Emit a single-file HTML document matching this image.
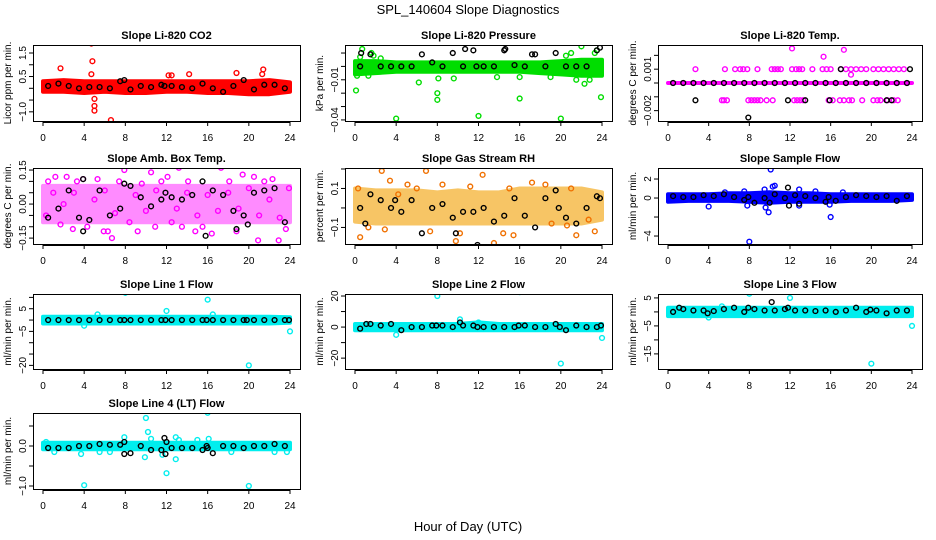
<!DOCTYPE html>
<html><head><meta charset="utf-8"><style>
html,body{margin:0;padding:0;background:#fff;}
svg{display:block;font-family:"Liberation Sans",Arial,sans-serif;}
</style></head><body>
<svg id="chart" width="936" height="540" viewBox="0 0 936 540" xmlns="http://www.w3.org/2000/svg">
<text x="468" y="14" text-anchor="middle" font-size="13">SPL_140604  Slope Diagnostics</text>
<text x="468" y="531" text-anchor="middle" font-size="13">Hour of Day (UTC)</text>
</svg>
<script>
// ---- shared category arrays ----
const xTicks=[0,4,8,12,16,20,24];
const bandHours=[0,2,4,6,8,10,12,14,16,18,20,22,24];
const blackHours=[0.5,1.5,2.5,3.5,4.5,5.5,6.5,7.5,8.5,9.5,10.5,11.5,12.5,13.5,14.5,15.5,16.5,17.5,18.5,19.5,20.5,21.5,22.5,23.5];

// ---- Li-820 CO2 ----
const co2BandLo=[-0.15,-0.15,-0.2,-0.15,-0.2,-0.2,-0.15,-0.15,-0.2,-0.2,-0.25,-0.25,-0.15];
const co2BandHi=[0.3,0.35,0.3,0.3,0.3,0.3,0.3,0.3,0.3,0.3,0.3,0.35,0.25];
const co2Black=[0.1,0.2,0.1,0.0,0.05,0.05,0.0,0.3,-0.05,0.1,0.05,0.15,0.1,0.05,0.0,0.2,0.0,-0.15,0.1,0.35,-0.05,0.15,0.15,0.0];
const co2OutX=[1.7,4.7,4.8,4.7,5,5,5,6.6,12.2,12.5,14.2,18.8,21.4,21.3];
const co2OutY=[0.85,1.9,1.15,0.6,-0.45,-0.75,-0.95,-1.35,0.55,0.55,0.6,0.65,0.8,0.6];
const co2BlkX=[11.8,7.9];
const co2BlkY=[0.1,0.35];

// ---- Li-820 Pressure ----
const presBandLo=[-0.006,-0.005,-0.004,-0.004,-0.004,-0.004,-0.004,-0.004,-0.004,-0.005,-0.006,-0.007,-0.007];
const presBandHi=[0.004,0.004,0.003,0.003,0.003,0.003,0.003,0.003,0.003,0.003,0.004,0.005,0.005];
const presBlack=[0.0,0.009,0.0,0.0,0.0,0.0,0.009,0.003,0.0,0.01,0.0,0.012,0.0,0.0,0.012,0.001,0.0,0.009,0.0,0.01,0.0,0.0,0.0,0.012];
const presOutX=[0.1,0.2,0.7,1.6,1.3,4,6.2,8,8,8.1,9.6,12,13.8,16,16,20,22,22.3,23.9,23.3,19,21.5,0.5,1.8,2.5,20.5,21,22.8,23.5];
const presOutY=[-0.018,-0.007,0.013,0.01,-0.007,-0.039,-0.012,-0.020,-0.025,-0.009,-0.009,-0.037,-0.008,-0.024,-0.008,-0.039,0.015,-0.013,-0.023,0.01,-0.008,-0.01,0.007,0.008,0.006,0.008,0.01,-0.01,0.012];
const presBlkX=[0.6,10.7,11.8,14.6,17.2,23.8];
const presBlkY=[0.01,0.013,0.0,0.013,0.009,0.014];

// ---- Li-820 Temp ----
const tempBandLo=[0,0,0,0,0,0,0,0,0,0,0,0,0];
const tempBandHi=[0,0,0,0,0,0,0,0,0,0,0,0,0];
const tempBlack=[0,0,0,0,0,0,0,0,0,0,0,0,0,0,0,0,0,0,0,0,0,0,0,0];
const tempOutX=[2.7,5.6,6.6,7.1,7.4,7.8,8.8,10.2,10.5,10.8,11.1,12.2,12.6,12.9,13.2,14.2,15.2,15.6,16,17,17.5,18,18.5,19,19.5,20.2,20.7,21.2,21.7,22.2,22.7,23.2,5.3,5.5,5.8,7.9,8.2,8.5,8.8,9.1,9.7,10.3,12.4,12.7,13,13.3,15.8,16.2,16.9,17.3,17.8,18.1,19.1,20.2,20.6,20.9,21.6,22.2,22.6,12.2,15.3,17.3,18];
const tempOutY=[0.001,0.001,0.001,0.001,0.001,0.001,0.001,0.001,0.001,0.001,0.001,0.001,0.001,0.001,0.001,0.001,0.001,0.001,0.001,0.001,0.001,0.001,0.001,0.001,0.001,0.001,0.001,0.001,0.001,0.001,0.001,0.001,-0.00125,-0.00125,-0.00125,-0.00125,-0.00125,-0.00125,-0.00125,-0.00125,-0.00125,-0.00125,-0.00125,-0.00125,-0.00125,-0.00125,-0.00125,-0.00125,-0.00125,-0.00125,-0.00125,-0.00125,-0.00125,-0.00125,-0.00125,-0.00125,-0.00125,-0.00125,-0.00125,0.0025,0.0019,0.0024,0.0006];
const tempBlkX=[2.7,7.9,11.8,13.5,15.9,17,21.5,22,23.8];
const tempBlkY=[-0.00125,-0.0025,-0.00125,-0.00125,-0.00125,0.001,-0.00125,-0.00125,0.001];

// ---- Amb Box Temp ----
const ambBandLo=[-0.08,-0.08,-0.08,-0.08,-0.08,-0.08,-0.08,-0.08,-0.08,-0.08,-0.08,-0.08,-0.08];
const ambBandHi=[0.08,0.08,0.08,0.08,0.08,0.08,0.08,0.08,0.08,0.08,0.08,0.08,0.08];
const ambBlack=[-0.06,-0.02,0.06,-0.06,-0.07,0.06,-0.05,-0.02,0.08,0.03,-0.01,0.02,0.03,0.02,0.04,0.1,0.06,0.04,-0.03,-0.05,0.05,0.06,0.07,-0.08];
const ambOutX=[0.5,0.3,1.2,1.7,2.3,2.9,3.3,3.9,4.3,5.3,5.9,6.3,6.7,7.4,7.9,8.4,9.2,9.6,10.5,10.9,11.5,12.1,12.5,13.2,13.5,14.1,14.8,15.5,16.4,17.3,18.1,18.8,19.4,20.5,20.9,21.5,22.3,22.9,23.6,23.9,1,2,3,5,6,7,9,10,11,13,14,15,16,17,18,19,20,21,22,23];
const ambOutY=[0.1,-0.05,0.12,-0.09,0.12,-0.11,0.1,0.11,-0.1,0.11,-0.12,-0.12,-0.15,0.1,0.15,-0.08,-0.12,0.09,0.14,-0.1,0.1,0.12,-0.08,0.16,-0.1,0.1,-0.12,-0.1,-0.13,0.16,0.1,-0.12,0.13,0.12,-0.16,0.1,0.11,-0.16,-0.11,0.07,0.05,0,0.05,0.02,0.06,-0.04,0.04,-0.03,0.06,-0.02,0.05,-0.05,0.04,-0.03,0.05,-0.02,0.07,-0.05,0.02,-0.06];
const ambBlkX=[3.9,3.9,15.8,18.8,19.9,11.9,7.9];
const ambBlkY=[0.11,-0.12,-0.14,-0.11,-0.09,0.05,0.09];

// ---- Gas Stream RH ----
const rhBandLo=[-0.07,-0.08,-0.08,-0.08,-0.08,-0.08,-0.08,-0.08,-0.08,-0.08,-0.08,-0.08,-0.06];
const rhBandHi=[0.1,0.09,0.09,0.09,0.08,0.09,0.08,0.08,0.1,0.1,0.1,0.1,0.08];
const rhBlack=[0.0,0.07,0.04,0.0,-0.02,0.04,-0.13,0.0,0.02,-0.05,-0.02,-0.02,0.0,-0.07,-0.04,0.05,-0.04,-0.1,0.05,0.09,-0.05,-0.08,0.0,0.06];
const rhOutX=[0.5,1.3,2.6,3.4,2.9,5.1,6.9,7.3,9.8,10.2,12.4,13.5,14.4,15.4,17.2,19.1,20.6,21.5,22.7,23.3,0.3,4.2,6,8.5,11.2,15,18.5,21];
const rhOutY=[-0.15,-0.1,0.19,0.14,-0.11,0.12,0.19,-0.12,-0.17,-0.13,0.17,-0.18,-0.13,-0.14,0.13,-0.08,-0.09,-0.14,-0.06,-0.12,0.1,0.07,0.1,0.12,0.11,0.1,0.12,0.1];
const rhBlkX=[1,3.9,11.9,9.8,19.8,23.8];
const rhBlkY=[-0.08,0.04,-0.19,-0.13,0.0,0.05];

// ---- Sample Flow ----
const sfBandLo=[-0.4,-0.3,-0.3,-0.3,-0.4,-0.5,-0.4,-0.4,-0.4,-0.3,-0.3,-0.3,-0.2];
const sfBandHi=[0.4,0.4,0.4,0.5,0.5,0.6,0.5,0.5,0.4,0.4,0.4,0.4,0.4];
const sfBlack=[0.2,0.1,0.1,0.3,0.2,0.4,0.1,-0.2,-0.5,0.0,0.4,0.0,0.3,0.2,0.0,-0.4,-0.3,0.1,0.3,0.2,0.1,0.2,-0.3,0.2];
const sfOutX=[4,7.5,7.8,8,9.5,9.6,9.9,10.1,10.3,10.5,12.9,14.5,15.9,16,17.2,5.6,12.9];
const sfOutY=[-0.9,0.7,-0.8,-4.6,0.9,-1.0,-1.5,3.0,1.2,1.3,0.9,0.7,-0.7,-2,0.6,0.6,-0.8];
const sfBlkX=[11.8,11.9,12.9,7.9,10,15.8];
const sfBlkY=[1.1,-0.8,-0.6,0.1,-0.5,0.1];

// ---- Line 1 Flow ----
const l1BandLo=[-1.5,-1.5,-1.5,-1.5,-1.5,-1.5,-1.5,-1.5,-1.5,-1.5,-1.5,-1.5,-1.2];
const l1BandHi=[1.5,1.5,1.5,1.5,1.5,1.5,1.5,1.5,1.5,1.5,1.5,1.5,1.2];
const l1Black=[0,0,0,0,0,0,0,0,0,0,0,0,0,0,0,0,0,0,0,0,0,0,0,0];
const l1OutX=[8,12,16,20,24,4,5.3,16.5];
const l1OutY=[12,4,9,-20,-5,-2.5,2.5,2.5];
const l1BlkX=[7.9,11.9,15.9,19.8,23.9];
const l1BlkY=[0,0,0,0,0];

// ---- Line 2 Flow ----
const l2BandLo=[-2,-2,-2,-2,-2,-2,-2,-2,-2,-2,-2,-2,-2];
const l2BandHi=[2,2,2,2,2,2,3,2,2,2,2,2,2];
const l2Black=[-1,2,1,2,-2,0,0,1,1,0,1,1,0,0,0,0,1,0,0,2,-2,1,0,0];
const l2OutX=[8,16,20,24,4,10.2,12];
const l2OutY=[20,22.5,-23.5,-7,-5,5,3];
const l2BlkX=[10.2,1.1,7.9,11.9,15.9,19.9,23.9];
const l2BlkY=[3,2,1,0,1,0,1];

// ---- Line 3 Flow ----
const l3BandLo=[-1.5,-1.5,-1.5,-1.5,-1.5,-1.5,-1.5,-1.5,-1.5,-1.5,-1.5,-1.5,-1.5];
const l3BandHi=[1.5,1.5,1.5,1.5,1.5,1.5,1.5,1.5,1.5,1.5,1.5,1.5,1.5];
const l3Black=[0,1,0.5,0.5,0.3,1,1.5,0,1,0.5,0.5,1,0.5,0.5,0.3,0.5,0,0.5,1.5,0,0.5,-0.5,0.5,0.5];
const l3OutX=[8,12,20,24,4,5.3];
const l3OutY=[6.5,5,-18.5,-5,-2,2];
const l3BlkX=[10.2,1.1,7.9,11.8,3.9,19.9];
const l3BlkY=[3.5,1.5,1.5,1.5,-0.5,0.8];

// ---- Line 4 (LT) Flow ----
const l4BandLo=[-0.08,-0.08,-0.08,-0.08,-0.08,-0.08,-0.08,-0.08,-0.08,-0.08,-0.08,-0.08,-0.08];
const l4BandHi=[0.08,0.08,0.08,0.08,0.08,0.08,0.08,0.08,0.08,0.08,0.08,0.08,0.08];
const l4Black=[-0.05,-0.05,-0.05,0.0,0.0,0.05,0.03,0.03,-0.18,0.0,-0.1,-0.1,-0.05,-0.05,-0.05,-0.1,-0.18,0.0,0.0,-0.05,0.0,0.0,0.05,0.0];
const l4OutX=[4,10,10.2,10.5,9.9,11.6,12,12.9,12.9,16,16.1,20,7.9,3.7,1.1,5.5,6.5,13.2,15,18.3,22.5,0.3,23.7];
const l4OutY=[-0.98,0.7,0.35,0.18,-0.28,-0.22,-0.68,-0.33,0.22,0.83,0.18,-1.0,0.22,-0.2,-0.15,-0.15,-0.15,0.15,0.15,-0.15,-0.15,0.1,-0.15];
const l4BlkX=[7.9,11.8,11.9,12,15.9,16,7.9];
const l4BlkY=[-0.2,0.2,-0.2,0.1,0.0,-0.05,0.1];

// ---- y tick arrays ----
const co2Ticks=[-1,-0.5,0,0.5,1,1.5];        const co2Labels=["−1.0","","","0.5","","1.5"];
const presTicks=[-0.04,-0.03,-0.02,-0.01,0,0.01]; const presLabels=["−0.04","","","−0.01","",""];
const tempTicks=[-0.002,-0.001,0,0.001,0.002]; const tempLabels=["−0.002","","","0.001",""];
const ambTicks=[-0.15,-0.1,-0.05,0,0.05,0.1,0.15]; const ambLabels=["−0.15","","","0.00","","","0.15"];
const rhTicks=[-0.1,0,0.1,0.2];               const rhLabels=["−0.1","","0.1",""];
const sfTicks=[-4,-2,0,2];                    const sfLabels=["−4","","0","2"];
const l1Ticks=[-20,-15,-10,-5,0,5,10];        const l1Labels=["−20","","","−5","","5",""];
const l2Ticks=[-20,-10,0,10,20];              const l2Labels=["−20","","0","","20"];
const l3Ticks=[-15,-10,-5,0,5];               const l3Labels=["−15","","−5","","5"];
const l4Ticks=[-1,-0.5,0,0.5];                const l4Labels=["−1.0","","0.0",""];

// ---- layout (positions/styles, not data) ----
const cols=[[33,300],[345,612],[658,922]];
const rows=[[45,121],[168,244],[294,369],[413,489]];
const panels=[
 {name:"co2",title:"Slope Li-820 CO2",ylab:"Licor ppm per min.",c:0,r:0,ymin:-1.39,ymax:1.84,color:"#ff0000",band:"#ff0000",bo:1,lo:co2BandLo,hi:co2BandHi,blk:co2Black,ox:co2OutX,oy:co2OutY,bx:co2BlkX,by:co2BlkY,t:co2Ticks,tl:co2Labels},
 {name:"pressure",title:"Slope Li-820 Pressure",ylab:"kPa per min.",c:1,r:0,ymin:-0.0408,ymax:0.016,color:"#00dd00",band:"#00dd00",bo:1,lo:presBandLo,hi:presBandHi,blk:presBlack,ox:presOutX,oy:presOutY,bx:presBlkX,by:presBlkY,t:presTicks,tl:presLabels},
 {name:"li820-temp",title:"Slope Li-820 Temp.",ylab:"degrees C per min.",c:2,r:0,ymin:-0.00275,ymax:0.00275,color:"#ff00ff",band:"#ff00ff",bo:1,lo:tempBandLo,hi:tempBandHi,blk:tempBlack,ox:tempOutX,oy:tempOutY,bx:tempBlkX,by:tempBlkY,t:tempTicks,tl:tempLabels},
 {name:"amb-box-temp",title:"Slope Amb. Box Temp.",ylab:"degrees C per min.",c:0,r:1,ymin:-0.176,ymax:0.159,color:"#ff00ff",band:"#ff00ff",bo:0.45,lo:ambBandLo,hi:ambBandHi,blk:ambBlack,ox:ambOutX,oy:ambOutY,bx:ambBlkX,by:ambBlkY,t:ambTicks,tl:ambLabels},
 {name:"gas-stream-rh",title:"Slope Gas Stream RH",ylab:"percent per min.",c:1,r:1,ymin:-0.185,ymax:0.205,color:"#f07000",band:"#f2a000",bo:0.6,lo:rhBandLo,hi:rhBandHi,blk:rhBlack,ox:rhOutX,oy:rhOutY,bx:rhBlkX,by:rhBlkY,t:rhTicks,tl:rhLabels},
 {name:"sample-flow",title:"Slope Sample Flow",ylab:"ml/min per min.",c:2,r:1,ymin:-4.84,ymax:3.16,color:"#0000ff",band:"#0000ff",bo:1,lo:sfBandLo,hi:sfBandHi,blk:sfBlack,ox:sfOutX,oy:sfOutY,bx:sfBlkX,by:sfBlkY,t:sfTicks,tl:sfLabels},
 {name:"line1-flow",title:"Slope Line 1 Flow",ylab:"ml/min per min.",c:0,r:2,ymin:-21.6,ymax:11.5,color:"#00eeee",band:"#00eeee",bo:1,lo:l1BandLo,hi:l1BandHi,blk:l1Black,ox:l1OutX,oy:l1OutY,bx:l1BlkX,by:l1BlkY,t:l1Ticks,tl:l1Labels},
 {name:"line2-flow",title:"Slope Line 2 Flow",ylab:"ml/min per min.",c:1,r:2,ymin:-27,ymax:21.3,color:"#00eeee",band:"#00eeee",bo:1,lo:l2BandLo,hi:l2BandHi,blk:l2Black,ox:l2OutX,oy:l2OutY,bx:l2BlkX,by:l2BlkY,t:l2Ticks,tl:l2Labels},
 {name:"line3-flow",title:"Slope Line 3 Flow",ylab:"ml/min per min.",c:2,r:2,ymin:-20.4,ymax:6.4,color:"#00eeee",band:"#00eeee",bo:1,lo:l3BandLo,hi:l3BandHi,blk:l3Black,ox:l3OutX,oy:l3OutY,bx:l3BlkX,by:l3BlkY,t:l3Ticks,tl:l3Labels},
 {name:"line4-flow",title:"Slope Line 4 (LT) Flow",ylab:"ml/min per min.",c:0,r:3,ymin:-1.075,ymax:0.825,color:"#00eeee",band:"#00eeee",bo:1,lo:l4BandLo,hi:l4BandHi,blk:l4Black,ox:l4OutX,oy:l4OutY,bx:l4BlkX,by:l4BlkY,t:l4Ticks,tl:l4Labels}
];
const NS="http://www.w3.org/2000/svg";
const svg=document.getElementById('chart');
function mk(tag,attrs,parent){const e=document.createElementNS(NS,tag);for(const k in attrs)e.setAttribute(k,attrs[k]);(parent||svg).appendChild(e);return e;}
panels.forEach(p=>{
 const [L,R]=cols[p.c],[T,B]=rows[p.r];
 const g=mk('g',{});
 
 
 const xs=v=>L+10+(v/24)*(R-L-20);
 const ys=v=>T+(p.ymax-v)/(p.ymax-p.ymin)*(B-T);
 const cp=mk('clipPath',{id:'cp-'+p.name},g);mk('rect',{x:L,y:T,width:R-L,height:B-T},cp);
 const plot=mk('g',{'clip-path':'url(#cp-'+p.name+')'},g);
 let d='';bandHours.forEach((h,i)=>{d+=(i?'L':'M')+xs(h).toFixed(1)+','+ys(p.hi[i]).toFixed(1);});
 for(let i=bandHours.length-1;i>=0;i--)d+='L'+xs(bandHours[i]).toFixed(1)+','+ys(p.lo[i]).toFixed(1);
 const bg=mk('g',{opacity:p.bo},plot);
 const band=mk('path',{d:d+'Z',fill:p.band,stroke:p.band,'stroke-width':4,'stroke-linejoin':'round'},bg);
 
 
 p.ox.forEach((x,i)=>{const c=mk('circle',{cx:xs(x),cy:ys(p.oy[i]),r:2.4,fill:'none',stroke:p.color,'stroke-width':1.4},plot);
  
  });
 p.blk.forEach((v,i)=>{const c=mk('circle',{cx:xs(blackHours[i]),cy:ys(v),r:2.4,fill:'none',stroke:'#000','stroke-width':1.4},plot);
  
  });
 p.bx.forEach((x,i)=>{const c=mk('circle',{cx:xs(x),cy:ys(p.by[i]),r:2.4,fill:'none',stroke:'#000','stroke-width':1.4},plot);
  
  });
 const box=mk('rect',{x:L+0.5,y:T+0.5,width:R-L,height:B-T,fill:'none',stroke:'#000','stroke-width':1},g);
 
 
 const ttl=mk('text',{x:(L+R)/2,y:T-6,'text-anchor':'middle','font-size':11,'font-weight':'bold'},g);ttl.textContent=p.title;
 
 
 const yl=mk('text',{transform:`translate(${L-22},${(T+B)/2}) rotate(-90)`,'text-anchor':'middle','font-size':10},g);yl.textContent=p.ylab;
 
 
 mk('line',{x1:xs(0),x2:xs(24),y1:B+1.5,y2:B+1.5,stroke:'#000'},g);
 xTicks.forEach(t=>{mk('line',{x1:xs(t),x2:xs(t),y1:B+1,y2:B+5,stroke:'#000'},g);
  const tx=mk('text',{x:xs(t),y:B+20,'text-anchor':'middle','font-size':10},g);tx.textContent=t;
  
  });
 p.t.forEach((t,i)=>{const y=ys(t);mk('line',{x1:L-4,x2:L,y1:y,y2:y,stroke:'#000'},g);
  if(p.tl[i]){const tx=mk('text',{transform:`translate(${L-7},${y}) rotate(-90)`,'text-anchor':'middle','font-size':10},g);tx.textContent=p.tl[i];
  
  }});
});
</script>
</body></html>
